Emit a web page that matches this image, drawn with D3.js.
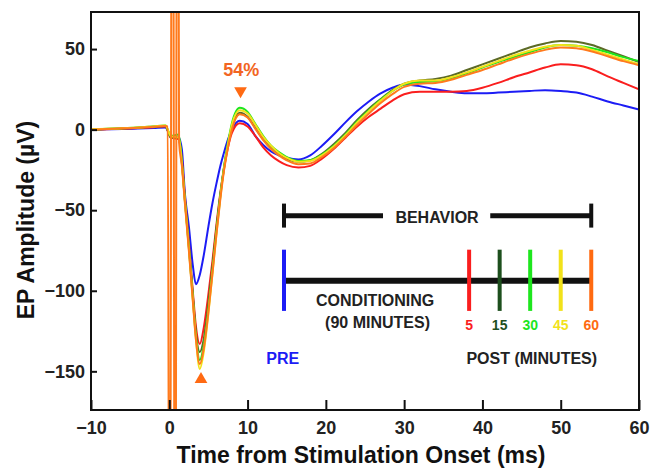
<!DOCTYPE html>
<html>
<head>
<meta charset="utf-8">
<script src="https://cdn.jsdelivr.net/npm/d3@7"></script>
<style>
body { margin: 0; background: #fff; }
svg { font-family: "Liberation Sans", Arial, sans-serif; font-weight: bold; }
</style>
</head>
<body>
<svg id="chart" width="652" height="470"></svg>
<script>
/* data: evoked potential traces */
var times = [-10, -8, -6, -4, -2, -0.5, 0.2, 1.2, 1.6, 2.0, 2.5, 3.0, 3.4, 3.9, 4.4,
             5.0, 5.5, 6.0, 6.5, 7.0, 7.5, 8.0, 9.0, 10, 11, 12, 13, 14, 15, 16.5,
             18, 19.5, 21, 22.5, 24, 25.5, 27, 28.5, 30, 32, 34, 36, 38, 40, 42, 44, 46, 48, 50,
             52, 54, 56, 58, 60];

var pre = [0, 0.2, 0.4, 0.7, 1, 1.3, -4, -5, -12, -40, -60, -84, -96, -90, -78,
           -60, -46, -34, -23, -14, -6, 0, 5.5, 3.5, -4, -9.5, -13.5, -16, -17.5, -18.5,
           -16, -10, -3, 4.5, 11.5, 17.5, 22.5, 26, 28, 27, 25, 23.5, 22.5, 22.5, 23, 23.5, 24, 24.5, 24,
           23, 20.5, 17.5, 15, 12.5];

var post5 = [0, 0.3, 0.6, 1, 1.5, 2, -5, -6, -18, -42, -70, -100, -122, -133, -123,
             -102, -82, -60, -40, -24, -11, -2, 4, 2, -4, -11, -16, -19.5, -22, -23.5,
             -22.5, -18, -12, -5, 2, 8, 13, 18, 22, 23.5, 23.5, 23.5, 24, 26, 29, 32.5, 35.5, 38.5, 40.5,
             40, 37.5, 33, 29, 25];

var post15 = [0, 0.4, 0.8, 1.2, 1.8, 2.3, -5, -5, -20, -44, -72, -102, -126, -138, -130,
              -108, -86, -62, -41, -23, -9, 2, 10.5, 8, 1, -6, -11, -15, -18, -20,
              -19, -15, -9, -2, 6, 13, 19, 24.5, 28.5, 30.5, 31.5, 33.5, 37, 40.5, 44, 47.5, 51, 53.5, 55,
              54.5, 52.5, 49, 45.5, 42];

var post30 = [0, 0.5, 0.9, 1.3, 2, 2.5, -4, -3, -20, -44, -73, -104, -128, -143, -134,
              -111, -88, -64, -42, -23, -8, 4, 13.5, 11, 3.5, -4, -10, -14, -17, -19.5,
              -19, -15.5, -10, -3, 5, 12, 18.5, 24, 28, 29.5, 30, 32, 35, 38.5, 42, 45, 48, 51, 52.5,
              52, 50.5, 48, 45, 42.5];

var post45 = [0.2, 0.5, 0.9, 1.3, 2, 2.5, -4, -5, -21, -45, -74, -105, -130, -148.5, -138,
              -114, -90, -66, -43, -24, -9, 3, 12, 10, 3, -4.5, -10, -14.5, -17.5, -20,
              -19.5, -16, -10.5, -3.5, 4.5, 11.5, 18, 24, 28.5, 30.5, 30.5, 32.5, 35.5, 39, 42.5, 46, 49, 51.5, 52.5,
              52, 49.5, 46.5, 43.5, 40.5];

var post60 = [0, 0.4, 0.8, 1.2, 1.8, 2.2, -5, -6, -22, -46, -75, -106, -130, -145.5, -136,
              -113, -90, -66, -44, -25, -11, 0, 9.5, 7.5, 0.5, -6.5, -12, -16, -19, -21.5,
              -21, -17, -11.5, -4.5, 3, 10, 16.5, 22, 26.5, 28.5, 29, 31, 34, 37, 40.5, 44, 47, 49.5, 51,
              50.5, 48.5, 45.5, 42.5, 40];

// stimulus artifact on the 60 min trace (goes off scale)
var artifactT = [-0.2, 0.05, 0.4, 0.75, 1.05, 1.25];
var artifactV = [2, -400, 400, -400, 400, -8];

var seriesNames = ["PRE", "5", "15", "30", "45", "60"];
var seriesValues = [pre, post5, post15, post30, post45, post60];
var lineColors = ["#1c1cf5", "#fa1e1e", "#5c6a26", "#1ee61e", "#f2e21a", "#ff7a1c"];
var tickColors = ["#1c1cf5", "#fa1e1e", "#1d4f1d", "#1ee61e", "#f2e21a", "#ff6a10"];

var xTicks = [-10, 0, 10, 20, 30, 40, 50, 60];
var yTicks = [-150, -100, -50, 0, 50];

/* chart */
let svg = d3.select("#chart");
let margin = { top: 12, right: 13, bottom: 60, left: 91 };
let width = 652 - margin.left - margin.right;
let height = 470 - margin.top - margin.bottom;

let xScale = d3.scaleLinear().domain([-10, 60]).range([margin.left, margin.left + width]);
let yScale = d3.scaleLinear().domain([-174, 73]).range([margin.top + height, margin.top]);

svg.append("defs").append("clipPath")
   .attr("id", "plot-clip")
   .append("rect")
   .attr("x", margin.left)
   .attr("y", margin.top)
   .attr("width", width)
   .attr("height", height);

let line = d3.line()
    .x(d => xScale(d[0]))
    .y(d => yScale(d[1]))
    .curve(d3.curveMonotoneX);

let traces = seriesValues.map(function(vals, i){
    let pts = times.map((t, j) => [t, vals[j]]);
    if (i == 5) {
        pts = pts.filter(p => p[0] < -0.3 || p[0] > 1.3);
        let art = artifactT.map((t, j) => [t, artifactV[j]]);
        pts = pts.concat(art).sort((a, b) => a[0] - b[0]);
    }
    return { name: seriesNames[i], color: lineColors[i], points: pts };
});

let container = svg.append("g").attr("clip-path", "url(#plot-clip)");

container.selectAll("path")
    .data(traces)
    .join("path")
    .attr("d", d => line(d.points))
    .attr("fill", "none")
    .attr("stroke", d => d.color)
    .attr("stroke-width", 2)
    .attr("stroke-linejoin", "round");

// axes
let xAxis = svg.append("g")
    .attr("transform", `translate(0, ${margin.top + height})`)
    .call(d3.axisBottom(xScale).tickValues(xTicks).tickSizeInner(-10).tickSizeOuter(0).tickPadding(11));

let yAxis = svg.append("g")
    .attr("transform", `translate(${margin.left}, 0)`)
    .call(d3.axisLeft(yScale).tickValues(yTicks).tickSizeInner(-6).tickSizeOuter(0).tickPadding(6));

[xAxis, yAxis].forEach(function(ax){
    ax.select(".domain").remove();
    ax.selectAll("line").attr("stroke", "#111").attr("stroke-width", 2);
    ax.selectAll("text")
      .style("font-family", "'Liberation Sans', Arial, sans-serif")
      .style("font-weight", "bold")
      .style("font-size", "18px")
      .attr("fill", "#222");
});

svg.append("rect")
   .attr("x", margin.left)
   .attr("y", margin.top)
   .attr("width", width)
   .attr("height", height)
   .attr("fill", "none")
   .attr("stroke", "#111")
   .attr("stroke-width", 2);

svg.append("text")
   .attr("x", margin.left + width / 2 - 4)
   .attr("y", 463)
   .attr("text-anchor", "middle")
   .style("font-size", "23px")
   .attr("fill", "#111")
   .text("Time from Stimulation Onset (ms)");

svg.append("text")
   .attr("transform", "translate(34, 220) rotate(-90)")
   .attr("text-anchor", "middle")
   .style("font-size", "23px")
   .attr("fill", "#111")
   .text("EP Amplitude (µV)");

/* peak markers */
let markColor = "#ff6a13";
let tri = d3.symbol().type(d3.symbolTriangle).size(70);

svg.append("path")
   .attr("d", tri)
   .attr("transform", `translate(${xScale(9.1)}, ${yScale(24)}) rotate(180)`)
   .attr("fill", markColor);

svg.append("path")
   .attr("d", tri)
   .attr("transform", `translate(${xScale(4.05)}, ${yScale(-155)})`)
   .attr("fill", markColor);

svg.append("text")
   .attr("x", xScale(9.2))
   .attr("y", yScale(33))
   .attr("text-anchor", "middle")
   .style("font-size", "18px")
   .attr("fill", "#f26522")
   .text("54%");

/* inset: session timeline */
let inset = svg.append("g");
let tStart = 14.65, tEnd = 53.9;
let tickPos = [14.65, 38.3, 42.2, 46.1, 50.0, 53.9];

// behavior bar
[[tStart, 27.3], [41.0, tEnd]].forEach(function(seg){
    inset.append("line")
         .attr("x1", xScale(seg[0])).attr("x2", xScale(seg[1]))
         .attr("y1", yScale(-53.4)).attr("y2", yScale(-53.4))
         .attr("stroke", "#111").attr("stroke-width", 5);
});
[tStart, tEnd].forEach(function(t){
    inset.append("line")
         .attr("x1", xScale(t)).attr("x2", xScale(t))
         .attr("y1", yScale(-45.9)).attr("y2", yScale(-60.8))
         .attr("stroke", "#111").attr("stroke-width", 4);
});
inset.append("text")
     .attr("x", xScale(34.2))
     .attr("y", yScale(-58))
     .attr("text-anchor", "middle")
     .style("font-size", "16px")
     .attr("fill", "#222")
     .text("BEHAVIOR");

// conditioning line
inset.append("line")
     .attr("x1", xScale(tStart)).attr("x2", xScale(tEnd))
     .attr("y1", yScale(-93.8)).attr("y2", yScale(-93.8))
     .attr("stroke", "#111").attr("stroke-width", 6);

inset.selectAll(".sess")
     .data(seriesNames)
     .join("line")
     .attr("class", "sess")
     .attr("x1", (d, i) => xScale(tickPos[i]))
     .attr("x2", (d, i) => xScale(tickPos[i]))
     .attr("y1", yScale(-74.5))
     .attr("y2", yScale(-112.5))
     .attr("stroke", (d, i) => tickColors[i])
     .attr("stroke-width", 4);

inset.selectAll(".sesslabel")
     .data(seriesNames.slice(1))
     .join("text")
     .attr("class", "sesslabel")
     .attr("x", (d, i) => xScale(tickPos[i + 1]))
     .attr("y", yScale(-124.3))
     .attr("text-anchor", "middle")
     .style("font-size", "14px")
     .attr("fill", (d, i) => tickColors[i + 1])
     .text(d => d);

inset.append("text")
     .attr("x", xScale(26.3)).attr("y", yScale(-109.6))
     .attr("text-anchor", "middle")
     .style("font-size", "16px")
     .attr("fill", "#222")
     .text("CONDITIONING");

inset.append("text")
     .attr("x", xScale(26.6)).attr("y", yScale(-123.2))
     .attr("text-anchor", "middle")
     .style("font-size", "16px")
     .attr("fill", "#222")
     .text("(90 MINUTES)");

inset.append("text")
     .attr("x", xScale(14.5)).attr("y", yScale(-145.6))
     .attr("text-anchor", "middle")
     .style("font-size", "16px")
     .attr("fill", lineColors[0])
     .text("PRE");

inset.append("text")
     .attr("x", xScale(46.3)).attr("y", yScale(-145.6))
     .attr("text-anchor", "middle")
     .style("font-size", "16px")
     .attr("fill", "#222")
     .text("POST (MINUTES)");
</script>
</body>
</html>
